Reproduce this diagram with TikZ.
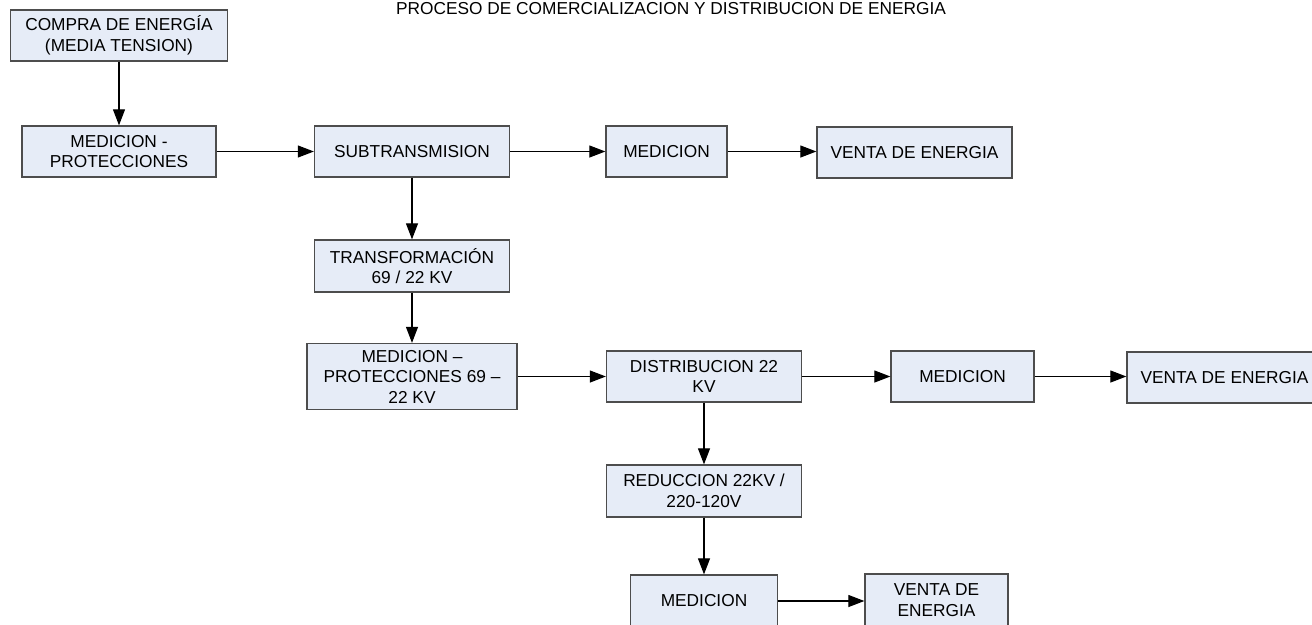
\documentclass[tikz,border=0pt]{standalone}
\usepackage{fontspec}
\setmainfont{Liberation Sans}
\usetikzlibrary{arrows.meta}
\definecolor{cajafill}{HTML}{E6ECF7}
\definecolor{cajaborde}{HTML}{4D4D4D}
\tikzstyle{cajaz}=[draw=cajaborde,line width=1.3pt,fill=cajafill,align=center,inner sep=0pt,minimum height=51pt,font=\fontsize{17.3}{20.5}\selectfont]
\tikzstyle{flechaz}=[line width=1.1pt,-{Triangle[length=16pt,width=12pt]}]

\begin{document}
\begin{tikzpicture}[x=1pt,y=-1pt]
    \useasboundingbox (0,0) rectangle (1312,624);
    \node[anchor=base,font=\fontsize{17.3}{20.5}\selectfont] (titulo) at (671,14.5) {PROCESO DE COMERCIALIZACION Y DISTRIBUCION DE ENERGIA};
    \node[cajaz,minimum width=217pt] (n1) at (119,35.5) {COMPRA DE ENERGÍA\\(MEDIA TENSION)};
    \node[cajaz,minimum width=194pt] (n2) at (119,151.5) {MEDICION -\\PROTECCIONES};
    \node[cajaz,minimum width=195pt] (n3) at (412,151.5) {SUBTRANSMISION};
    \node[cajaz,minimum width=121pt] (n4) at (666.5,151.5) {MEDICION};
    \node[cajaz,minimum width=195pt] (n5) at (914.5,152.5) {VENTA DE ENERGIA};
    \node[cajaz,minimum width=195pt,minimum height=52pt] (n6) at (412,266) {TRANSFORMACIÓN\\69 / 22 KV};
    \node[cajaz,minimum width=210pt,minimum height=66pt] (n7) at (412,376.5) {MEDICION –\\PROTECCIONES 69 –\\22 KV};
    \node[cajaz,minimum width=195pt] (n8) at (704,376.5) {DISTRIBUCION 22\\KV};
    \node[cajaz,minimum width=143pt] (n9) at (962.5,376.5) {MEDICION};
    \node[cajaz,minimum width=195pt] (n10) at (1224.5,377.5) {VENTA DE ENERGIA};
    \node[cajaz,minimum width=195pt,minimum height=52pt] (n11) at (704,491) {REDUCCION 22KV /\\220-120V};
    \node[cajaz,minimum width=147pt,minimum height=52pt] (n12) at (704,601) {MEDICION};
    \node[cajaz,minimum width=143pt,minimum height=52pt] (n13) at (936.5,600) {VENTA DE\\ENERGIA};

    \foreach \from/\to in {n1/n2,n2/n3,n3/n4,n3/n6,n6/n7,n7/n8,n8/n9,n8/n11,n11/n12}
    \draw[flechaz] (\from) -- (\to);
    \foreach \from/\to in {n4/n5,n9/n10,n12/n13}
    \draw[flechaz] (\from.east) -- (\from.east -| \to.west);
\end{tikzpicture}
\end{document}
